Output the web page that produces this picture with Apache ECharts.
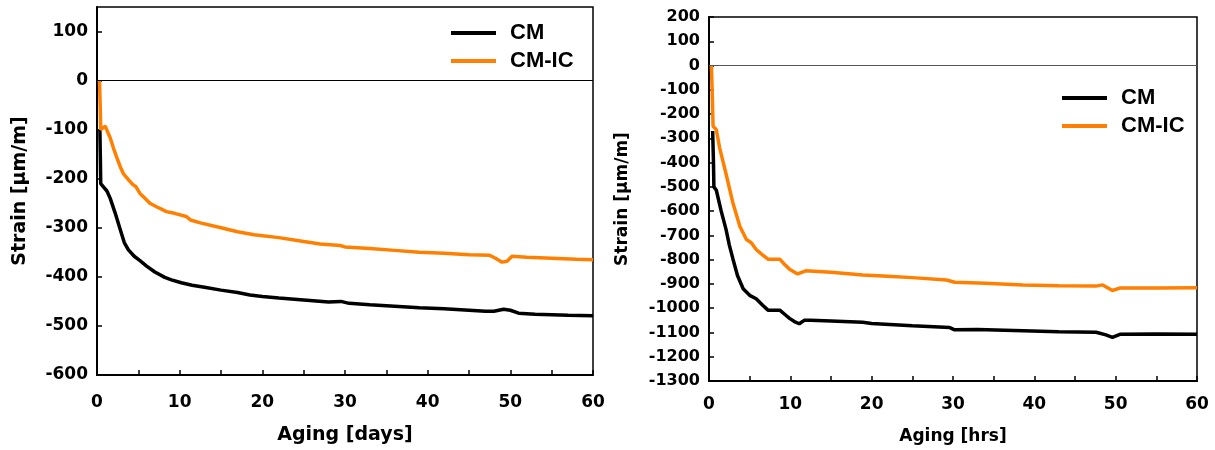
<!DOCTYPE html>
<html><head><meta charset="utf-8">
<script src="https://cdn.jsdelivr.net/npm/echarts@6/dist/echarts.min.js"></script>
<style>html,body{margin:0;padding:0;background:#fff}#c{width:1215px;height:450px}</style>
</head><body><div id="c"></div>
<script>
// Left panel: Aging [days]
const daysCM = [[0.35,-100],[0.4,-150],[0.45,-210],[0.7,-215],[1.2,-225],[1.6,-240],[2.2,-270],[2.8,-303],[3.3,-330],[3.8,-345],[4.5,-358],[5.2,-367],[6,-378],[7,-390],[8.2,-401],[9,-406],[10.2,-412],[11.5,-417],[13,-421],[15,-427],[17,-432],[18.5,-437],[20,-440],[22,-443],[25,-447],[28,-451],[29.5,-450],[30.5,-454],[33,-457],[36,-460],[39,-463],[42,-465],[45,-468],[47,-470],[48,-470],[49.2,-466],[50,-468],[51,-474],[53,-476],[55,-477],[57,-478],[60,-479]];
const daysCMIC = [[0.3,0],[0.4,-60],[0.45,-100],[0.7,-97],[1.0,-93],[1.3,-105],[1.6,-117],[2.0,-138],[2.4,-157],[2.8,-175],[3.2,-190],[3.8,-202],[4.4,-213],[4.7,-216],[5.2,-230],[5.8,-240],[6.4,-250],[7.2,-257],[8.4,-267],[9.5,-271],[10.8,-277],[11.3,-284],[12.5,-290],[15,-300],[17,-308],[19,-314],[22,-320],[25,-328],[27,-333],[29.4,-336],[30,-339],[33,-342],[36,-346],[39,-350],[42,-352],[45,-355],[47.5,-356],[48.2,-362],[49,-370],[49.6,-368],[50.2,-358],[52,-360],[55,-362],[58,-364],[60,-365]];
// Right panel: Aging [hrs]
const hrsCM = [[0.45,-270],[0.55,-400],[0.6,-500],[0.9,-514],[1.5,-600],[2.1,-676],[2.5,-740],[2.95,-798],[3.5,-865],[4.2,-920],[5,-947],[5.8,-961],[6.6,-988],[7.25,-1008],[8.7,-1008],[9.3,-1025],[9.9,-1042],[10.5,-1055],[11.1,-1064],[11.7,-1050],[12.5,-1050],[15,-1053],[18.9,-1058],[20,-1063],[25,-1072],[29.6,-1080],[30.2,-1089],[33,-1088],[38.6,-1093],[43,-1097],[47.6,-1099],[48.8,-1110],[49.6,-1120],[50.6,-1107],[55,-1106],[60,-1107]];
const hrsCMIC = [[0.3,0],[0.4,-120],[0.5,-250],[0.9,-264],[1.3,-338],[2.1,-447],[2.95,-568],[3.8,-663],[4.6,-717],[5.2,-730],[5.8,-758],[6.5,-778],[7.25,-798],[8.7,-798],[9.3,-820],[9.9,-839],[10.9,-859],[11.9,-846],[15,-852],[18.9,-863],[22,-868],[25,-874],[29.2,-884],[30.2,-893],[34,-897],[38.6,-904],[43,-907],[47.6,-909],[48.4,-904],[49.6,-927],[50.5,-917],[55,-917],[60,-916]];
const seriesNames = ['CM','CM-IC'];
const xNames = ['Aging [days]','Aging [hrs]'];
const yName = 'Strain [µm/m]';

const FONT = 'DejaVu Sans';
const BLACK = '#000000', ORANGE = '#ff8000';
function xAxis(gi, nameSize, nameGap, labelMargin){
  return {type:'value', gridIndex:gi, min:0, max:60, interval:5,
    name:xNames[gi], nameLocation:'middle', nameGap:nameGap,
    nameTextStyle:{fontFamily:FONT, fontWeight:'bold', fontSize:nameSize, color:'#000'},
    axisLine:{show:true, onZero:false, lineStyle:{color:'#000', width:2}},
    axisTick:{show:true, inside:true, length:5, lineStyle:{color:'#000', width:1.5}},
    axisLabel:{fontFamily:FONT, fontWeight:'bold', fontSize:17, color:'#000', margin:labelMargin,
      formatter:v => (v % 10 === 0 ? String(v) : '')},
    splitLine:{show:false}};
}
function yAxis(gi, min, max, nameSize, nameGap, fs){
  return {type:'value', gridIndex:gi, min:min, max:max, interval:100,
    name:yName, nameLocation:'middle', nameGap:nameGap,
    nameTextStyle:{fontFamily:FONT, fontWeight:'bold', fontSize:nameSize, color:'#000'},
    axisLine:{show:true, onZero:false, lineStyle:{color:'#000', width:2}},
    axisTick:{show:true, inside:true, length:5, lineStyle:{color:'#000', width:1.5}},
    axisLabel:{fontFamily:FONT, fontWeight:'bold', fontSize:fs, color:'#000', margin:9,
      showMaxLabel: max % 100 === 0, formatter:v => String(v)},
    splitLine:{show:false}};
}
function line(name, data, color, xi, zeroColor){
  const s = {name:name, type:'line', xAxisIndex:xi, yAxisIndex:xi, data:data, symbol:'none',
    showSymbol:false, lineStyle:{color:color, width:3.5}, itemStyle:{color:color}, z:3};
  if (zeroColor) s.markLine = {silent:true, symbol:'none', label:{show:false}, animation:false,
    lineStyle:{color:zeroColor, width:1, type:'solid'}, data:[{yAxis:0}]};
  return s;
}
const legendCommon = {orient:'vertical', icon:'rect', itemWidth:45, itemHeight:4, itemGap:6,
  textStyle:{fontFamily:'Liberation Sans', fontWeight:'bold', fontSize:22, color:'#000', padding:[0,0,0,9]},
  data:seriesNames};
const chart = echarts.init(document.getElementById('c'), null, {renderer:'canvas'});
chart.setOption({
  animation:false,
  backgroundColor:'#fff',
  grid:[
    {left:97, top:7, width:496, height:374, show:true, borderColor:'#000', borderWidth:1.5, backgroundColor:'transparent'},
    {left:709, top:17, width:488, height:370, show:true, borderColor:'#000', borderWidth:1.5, backgroundColor:'transparent'}
  ],
  legend:[
    Object.assign({left:446, top:17}, legendCommon),
    Object.assign({left:1057, top:82}, legendCommon)
  ],
  xAxis:[xAxis(0, 19, 51, 19), xAxis(1, 17, 47, 15)],
  yAxis:[yAxis(0, -600, 150, 19, 67, 17), yAxis(1, -1300, 200, 17, 78, 16)],
  series:[
    line(seriesNames[0], daysCM, BLACK, 0, '#000'),
    line(seriesNames[1], daysCMIC, ORANGE, 0),
    line(seriesNames[0], hrsCM, BLACK, 1, '#555'),
    line(seriesNames[1], hrsCMIC, ORANGE, 1)
  ]
});
</script></body></html>
